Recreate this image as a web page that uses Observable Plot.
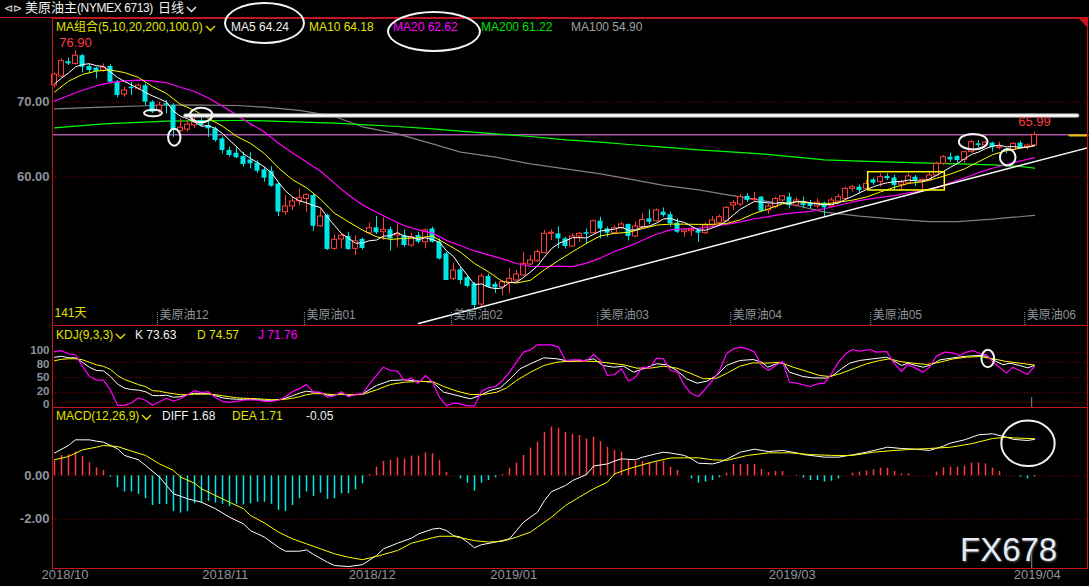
<!DOCTYPE html>
<html><head><meta charset="utf-8">
<script src="https://cdn.jsdelivr.net/npm/d3@7"></script>
<script src="https://cdn.jsdelivr.net/npm/@observablehq/plot@0.6"></script>
<style>
html,body{margin:0;padding:0;background:#000;}
#chart{position:relative;width:1089px;height:586px;background:#000;overflow:hidden;font-family:"Liberation Sans",Arial,"Noto Sans CJK SC",sans-serif;}
#chart .abs{position:absolute;white-space:nowrap;line-height:14px;}
#chart .pane{position:absolute;left:0;}
</style></head><body><div id="chart"></div>
<script>
// ---------------- data ----------------
const openP = [72.23,73.43,75.4,75.1,76.2,74.76,74.54,74.2,74.76,72.67,
71.03,72.0,71.8,72.2,70.0,68.9,69.8,69.56,66.14,66.35,
66.9,67.56,66.9,66.45,65.1,63.56,63.2,62.76,62.3,61.87,
60.98,60.8,59.1,55.34,56.1,56.8,57.1,57.56,53.45,54.9,
50.45,51.7,52.1,50.45,51.7,52.54,53.25,52.67,52.98,52.23,
52.23,50.89,52.23,51.34,53.1,51.34,49.78,46.45,47.65,46.6,
45.78,43.03,46.76,45.7,45.34,45.9,46.23,46.9,48.36,48.8,
49.87,52.45,52.45,51.78,50.76,52.1,52.6,52.54,54.14,53.1,
52.54,53.2,53.7,52.1,53.34,54.45,54.14,55.34,55.0,53.87,
52.67,52.8,52.9,52.54,53.56,53.87,54.14,56.23,56.36,57.45,
56.95,57.34,55.56,56.0,56.9,57.34,56.23,56.54,56.5,56.1,
56.54,56.1,56.76,57.1,58.45,58.67,58.45,59.65,59.34,60.1,
59.9,59.0,59.2,60.0,59.6,59.56,60.23,61.78,62.67,62.76,
62.3,63.34,64.45,64.23,64.54,63.9,63.65,63.65,64.54,64.0,
64.23];
const highP = [73.9,75.78,75.9,76.9,76.36,75.1,74.67,75.1,75.0,72.9,
72.0,72.67,72.45,72.45,70.2,70.0,70.2,69.8,67.78,67.56,
67.98,68.2,67.3,66.67,65.34,64.0,64.1,63.3,63.25,62.2,
61.34,61.4,59.34,57.56,57.34,58.45,57.78,57.78,55.78,55.1,
52.3,52.5,52.67,52.23,51.9,53.87,54.76,54.58,53.34,53.78,
52.98,52.54,52.67,53.1,53.34,51.78,50.0,48.54,48.0,46.9,
46.0,47.1,47.1,46.0,46.23,47.78,47.56,50.0,49.56,50.3,
52.9,52.98,53.4,52.0,52.45,52.67,53.1,54.3,54.67,53.34,
53.56,54.0,53.78,54.0,55.1,55.65,55.78,55.9,55.34,54.45,
53.1,53.3,53.0,53.87,54.76,54.98,56.1,56.9,57.7,57.8,
58.0,57.42,56.45,57.34,57.56,57.87,57.25,57.34,56.9,57.1,
56.67,57.25,57.7,58.67,58.9,59.0,59.56,59.9,60.45,60.45,
60.23,59.56,60.45,60.23,59.65,60.67,62.0,62.9,63.2,62.9,
63.47,64.9,64.9,64.8,64.67,64.67,63.8,64.6,64.8,64.45,
65.99];
const lowP = [71.9,73.25,74.9,74.9,73.9,73.8,73.1,74.0,72.45,70.58,
70.67,70.9,71.56,69.56,68.5,68.45,68.45,65.3,66.0,66.0,
66.45,66.67,65.3,64.67,63.1,62.67,62.45,61.34,61.1,60.54,
59.34,58.67,54.76,54.9,55.56,56.23,55.34,52.8,53.34,50.23,
50.23,50.45,50.23,49.56,50.3,52.36,52.36,51.56,50.14,50.67,
50.67,50.67,51.1,50.45,51.2,48.98,46.23,46.23,45.7,45.25,
42.45,42.67,45.25,44.5,44.23,44.45,46.0,46.76,48.23,48.67,
49.78,51.56,50.45,50.45,50.67,51.34,51.1,52.45,51.78,52.0,
52.36,52.98,51.5,51.9,53.1,53.7,54.0,54.67,53.34,52.5,
52.0,52.1,51.34,52.36,53.25,53.56,54.0,55.56,56.1,56.67,
56.67,55.34,55.03,55.78,56.67,55.78,56.0,55.78,55.78,55.78,
54.67,56.0,56.45,56.9,58.0,57.8,58.23,58.9,58.67,59.56,
58.23,58.23,59.1,58.76,58.23,59.47,60.1,61.56,62.0,61.9,
61.78,63.2,63.92,64.0,63.34,63.65,63.1,63.5,63.78,63.65,
64.1];
const closeP = [73.69,75.47,75.1,76.2,74.67,74.23,74.1,74.6,72.67,70.9,
71.56,71.8,72.2,70.0,68.67,69.56,69.6,66.23,66.6,67.0,
67.3,66.9,66.45,64.9,63.56,62.9,62.6,61.7,61.78,60.8,
59.87,58.8,55.34,56.1,56.76,57.2,57.6,53.45,54.76,50.36,
51.65,52.2,50.36,51.45,50.5,53.2,52.58,52.98,51.78,52.45,
50.89,52.0,51.34,52.9,51.34,49.1,46.23,47.56,46.23,45.43,
42.9,46.76,45.34,45.25,46.0,46.45,47.03,48.45,48.9,50.0,
52.45,52.6,51.78,50.76,52.1,52.45,52.4,54.14,53.1,52.54,
53.2,53.7,52.1,53.43,54.3,54.0,55.56,54.9,53.78,52.67,
52.9,53.0,52.54,53.56,54.23,54.67,55.92,56.54,57.34,56.9,
57.1,55.47,56.1,57.1,57.45,56.23,56.9,56.23,56.1,56.6,
55.92,56.9,57.34,58.45,58.67,58.23,59.1,59.2,60.0,59.8,
58.9,59.3,60.1,59.5,59.65,60.23,61.78,62.67,62.3,62.23,
63.34,64.67,64.23,64.6,63.92,64.0,63.47,64.45,63.92,64.23,
65.65];

const ma5 = [72.45,73.2,73.9,74.7,75.03,75.13,74.86,74.76,74.05,73.3,
72.77,72.31,71.83,71.29,70.85,70.45,70.01,68.81,68.13,67.8,
67.35,66.81,66.85,66.51,65.82,64.94,64.08,63.13,62.51,61.96,
61.35,60.59,59.32,58.18,57.37,56.84,56.6,56.22,55.95,54.67,
53.56,52.48,51.87,51.2,51.23,51.54,51.62,52.14,52.21,52.6,
52.14,52.02,51.69,51.92,51.69,51.34,50.18,49.43,48.09,46.91,
45.67,45.78,45.33,45.14,45.25,45.96,46.01,46.64,47.37,48.17,
49.37,50.48,51.15,51.52,51.94,51.94,51.9,52.37,52.84,52.93,
53.08,53.34,52.93,52.99,53.35,53.51,53.88,54.44,54.51,54.18,
53.96,53.45,52.98,52.93,53.25,53.6,54.18,54.98,55.74,56.27,
56.76,56.67,56.58,56.53,56.64,56.47,56.76,56.78,56.58,56.41,
56.35,56.35,56.57,57.04,57.46,57.92,58.36,58.73,59.04,59.27,
59.4,59.44,59.62,59.52,59.49,59.76,60.25,60.77,61.33,61.84,
62.46,63.04,63.35,63.81,64.15,64.28,64.04,64.09,63.95,64.01,
64.24];
const ma10 = [[0,71.34],[2,72.8],[4,73.7],[6,74.15],[8,74.3],[10,73.95],[12,73.3],[14,72.08],[16,71.16],[18,69.71],[20,68.9],[22,67.83],[24,66.81],[26,65.45],[28,64.51],[30,63.15],[32,61.23],[34,59.67],[36,58.6],[38,57.07],[40,55.2],[42,54.05],[44,52.95],[46,52.05],[48,51.71],[50,51.84],[52,51.92],[54,52.15],[56,51.1],[58,50.0],[60,48.5],[62,47.38],[64,46.08],[66,45.9],[68,46.26],[70,47.67],[72,48.9],[74,50.06],[76,51.19],[78,52.18],[80,52.51],[82,52.65],[84,53.14],[86,53.61],[88,53.75],[90,53.74],[92,53.71],[94,53.72],[96,53.82],[98,54.34],[100,55.18],[102,55.78],[104,56.46],[106,56.72],[108,56.56],[110,56.41],[112,56.68],[114,56.94],[116,57.36],[118,58.04],[120,58.66],[122,59.18],[124,59.38],[126,59.85],[128,60.43],[130,61.11],[132,62.06],[134,63.0],[136,63.54],[138,63.88],[140,64.18]];
const ma20 = [[0,70.14],[2,70.9],[4,71.6],[6,72.2],[8,72.6],[10,72.85],[12,72.95],[14,72.85],[16,72.6],[18,72.0],[20,71.43],[22,70.57],[24,69.45],[26,68.31],[28,67.11],[30,66.03],[32,64.53],[34,63.24],[36,62.03],[38,60.79],[40,59.18],[42,57.64],[44,56.31],[46,55.33],[48,54.39],[50,53.52],[52,52.99],[54,52.55],[56,51.58],[58,50.86],[60,50.17],[62,49.65],[64,49.12],[66,48.5],[68,48.13],[70,48.09],[72,48.14],[74,48.07],[76,48.55],[78,49.22],[80,50.09],[82,50.78],[84,51.6],[86,52.4],[88,52.97],[90,53.13],[92,53.18],[94,53.43],[96,53.72],[98,54.05],[100,54.46],[102,54.75],[104,55.09],[106,55.27],[108,55.45],[110,55.8],[112,56.23],[114,56.7],[116,57.04],[118,57.3],[120,57.54],[122,57.93],[124,58.16],[126,58.61],[128,59.24],[130,59.89],[132,60.62],[134,61.19],[136,61.7],[138,62.16],[140,62.62]];
const ma100 = [[0,69.12],[7,69.34],[14,69.56],[19,69.65],[26,69.56],[30,69.34],[35,68.9],[40,68.1],[44,66.72],[49,65.78],[54,64.45],[58,63.34],[63,62.67],[68,61.78],[73,61.1],[78,60.45],[82,59.78],[87,58.9],[92,58.3],[96,57.69],[101,56.9],[106,56.23],[110,55.34],[115,54.8],[120,54.4],[125,54.09],[129,54.09],[134,54.4],[137,54.67],[140,54.9]];
const ma200 = [[0,66.58],[7,67.12],[16,67.47],[26,67.56],[30,67.52],[40,67.2],[44,67.0],[49,66.76],[54,66.45],[58,66.14],[63,65.78],[68,65.43],[73,64.98],[78,64.67],[82,64.36],[87,64.0],[92,63.65],[96,63.4],[101,63.12],[106,62.67],[110,62.32],[115,62.14],[120,62.0],[125,61.87],[129,61.78],[134,61.65],[138,61.43],[140,61.22]];

const kLine = [[0,90],[1,92],[2,89],[3,89],[4,80],[5,70],[6,64],[7,63],[8,52],[9,37],[10,29],[11,26],[12,25],[13,22],[14,14.5],[15,14],[16,15],[17,11],[18,12],[19,16],[20,19],[21,18],[22,18],[23,14],[24,10],[25,8],[26,7],[27,7],[28,7],[29,6],[30,5],[31,5],[32,6],[33,9],[34,14],[35,19],[36,23],[37,21],[38,20],[39,15],[40,15],[41,18],[42,14],[43,16],[44,17.5],[46,34.2],[48,44.1],[50,45.4],[52,42.8],[54,40.8],[55.6,21],[57.5,14.5],[59.4,7.9],[60.8,14.5],[62.2,24.3],[63.7,29.6],[65.1,47.4],[66.5,67.2],[68,77.1],[69.9,88.9],[71.8,86.9],[73.7,81.6],[75.6,83.6],[77,86.9],[78.4,73.7],[79.9,70.4],[81.3,72.4],[82.7,60.6],[84.1,67.2],[86,77.1],[87.5,75.1],[88.9,63.9],[90.3,47.4],[91.8,38.8],[93.2,42.8],[94.6,54],[96,74],[97.9,83.6],[99.8,85.6],[101,80.3],[101.9,70.4],[103.1,77.1],[104.1,79],[105,60.6],[106.9,52],[108.3,49.4],[110.3,48.7],[111.2,54],[112.4,67.2],[113.6,78.3],[115,83.6],[116.9,86.9],[118.9,90.2],[119.8,83.6],[121,73.7],[121.9,78.3],[123.1,73.7],[124.1,70.4],[125.3,75.1],[126.5,84.9],[128.4,88.9],[130.3,92.2],[132.2,93.5],[133.1,92.2],[134.1,84.9],[135.5,75.1],[136.5,78.3],[137.9,73.7],[139,69.1],[140,73.63]];
const dLine = [[0,83],[1,86],[2,87],[3,87],[4,85],[5,80],[6,75],[7,72],[8,66],[9,54],[10,46],[11,41],[12,36],[13,32],[14,24],[15,23],[16,20],[17,18],[18,16],[19,16],[20,17],[21,17],[22,17.5],[23,16],[24,14],[25,12],[26,10],[27,9],[28,8.5],[29,8],[30,7],[31,6],[32,6],[33,7],[34,9],[35,12],[36,16],[37,18],[38,18],[39,17],[40,16],[41,17],[42,16],[43,16],[44,16.5],[46,25.6],[48,36.2],[50,40.8],[52,42.1],[54,42.1],[55.6,32.2],[57.5,23],[59.4,16.4],[61.3,16.4],[63.2,21],[64.6,29.6],[66,44.1],[68,60.6],[69.9,73.7],[71.8,80.3],[73.7,82.3],[75.6,82.3],[77.5,81.6],[79.4,78.3],[81.3,75.1],[83.2,68.5],[85.1,68.5],[87,72.4],[88.9,68.5],[90.8,58.6],[92.7,47.4],[94.6,48.7],[96,58],[97.9,72.4],[99.8,79],[101.7,78.3],[103.6,80.3],[105.5,70.4],[107.4,62.5],[109.3,54],[110.7,52],[112.2,57.3],[114.1,67.2],[116,77.1],[117.9,83.6],[119.3,86.9],[120.8,81.6],[122.7,78.3],[124.6,75.7],[126.5,80.3],[128.4,86.9],[130.3,90.2],[132.2,91.5],[134.1,86.9],[136,81.6],[137.9,78.3],[140,74.57]];
const jLine = [[0,101],[1,103],[2,97],[3,95],[4,72],[5,52],[6,45],[7,45],[8,25],[9,-5],[10,-5],[11,0],[12,10],[13,5],[14,-5],[15,2],[16,9],[17,3],[18,8],[19,16],[20,24],[21,20],[22,22],[23,10],[24,3],[25,1],[26,3],[27,5],[28,6],[29,5],[30,3],[31,3],[32,5],[33,12],[34,22],[35,28],[36,36],[37,21],[38,21],[39,11],[40,14],[41,22],[42,12],[43,17],[44,17.8],[45,37.5],[46,54],[47,70.4],[48,63.9],[49,62.5],[50,44.1],[51,48.7],[52,38.8],[53,54],[54,40.8],[55,11.2],[56,-6],[57,-0.7],[58,-2],[59,-6],[60,-6],[61,23],[62,29.6],[63,32.2],[64,44.1],[65,60.6],[66,80.3],[67,100.1],[68,104.7],[69,114.6],[71,114.6],[72,110],[73,83.6],[74,84.9],[75,84.9],[76,82.3],[77,95.5],[78,83.6],[79,54],[80,56],[81,67.2],[82,42.8],[83,50.7],[84,70.4],[85,68.5],[86,88.2],[87,86.9],[88,63.9],[89,60.6],[90,34.2],[91,17.8],[92,12.5],[93,27.6],[94,44.1],[95,63.9],[96,96.8],[97,106.7],[98,110],[99,106.7],[100,100.1],[101,73.7],[102,63.9],[103,73.7],[104,81.6],[105,40.8],[106,38.8],[108,32.2],[109,37.5],[110,38.8],[111,57.3],[112,80.3],[113,96.8],[114,105.4],[115,102.1],[116.5,105.4],[117.4,100.1],[118.9,101.4],[119.8,80.3],[121,61.9],[121.9,75.7],[122.9,69.1],[124.1,60.6],[125,70.4],[126,92.2],[127.2,100.1],[128.4,98.1],[129.3,93.5],[130.3,100.1],[131.2,103.4],[132.2,96.8],[133.1,95.5],[134.1,80.3],[135,70.4],[136,58.6],[136.9,70.4],[137.9,63.9],[139,56],[140,71.76]];

const diffLine = [[0,1.05],[2,1.4],[3,1.66],[5,1.66],[6,1.6],[7,1.55],[9,1.25],[10,0.94],[12,0.74],[13,0.48],[15,-0.06],[16,-0.45],[17,-0.83],[19,-1.06],[21,-1.22],[23,-1.52],[25,-1.91],[27,-2.22],[28,-2.53],[30,-2.83],[32,-3.3],[33,-3.48],[35,-3.48],[36,-3.42],[37,-3.63],[39,-3.99],[40,-4.14],[42,-4.19],[44,-4.1],[46,-3.68],[47,-3.37],[49,-3.11],[51,-2.88],[52,-2.68],[54,-2.46],[55,-2.42],[56,-2.53],[57,-2.76],[58,-2.83],[59,-3.06],[60,-3.32],[61,-3.18],[63,-3.06],[65,-2.91],[66,-2.53],[67,-2.14],[69,-1.68],[70,-1.14],[71,-0.73],[73,-0.45],[74,-0.22],[76,0.06],[77,0.45],[79,0.55],[80,0.68],[81,0.78],[83,0.74],[84,0.86],[86,1.02],[87,1.09],[88,1.05],[90,0.94],[91,0.78],[92,0.58],[94,0.55],[95,0.63],[96,0.76],[98,1.09],[100,1.23],[102,1.12],[104,1.17],[106,1.06],[107,0.98],[110,0.86],[112,0.86],[114,0.97],[116,1.09],[119,1.32],[121,1.26],[123,1.23],[125,1.17],[127,1.37],[128,1.51],[130,1.66],[132,1.89],[134,1.94],[136,1.78],[137,1.68],[139,1.63],[140,1.68]];
const deaLine = [[0,0.74],[2,0.89],[4,1.2],[6,1.32],[7,1.4],[9,1.35],[11,1.14],[13,0.94],[15,0.55],[17,0.25],[18,-0.06],[20,-0.34],[21,-0.6],[23,-0.91],[25,-1.22],[27,-1.52],[28,-1.83],[30,-2.18],[32,-2.6],[34,-2.91],[36,-3.14],[38,-3.37],[40,-3.6],[42,-3.76],[44,-3.87],[46,-3.72],[49,-3.45],[51,-3.11],[54,-2.86],[55,-2.79],[57,-2.79],[58,-2.86],[60,-2.99],[62,-3.06],[64,-3.02],[66,-2.83],[68,-2.6],[69,-2.37],[71,-1.91],[73,-1.37],[75,-0.98],[77,-0.6],[79,-0.29],[80,0.09],[82,0.32],[84,0.51],[86,0.68],[88,0.82],[90,0.83],[92,0.83],[94,0.74],[96,0.71],[99,0.94],[102,1.06],[105,1.06],[108,0.98],[111,0.94],[114,0.94],[117,1.09],[120,1.17],[123,1.23],[125,1.26],[128,1.32],[131,1.48],[134,1.72],[136,1.78],[137,1.75],[140,1.71]];
const macdHist = [0.68,0.94,0.98,1.09,0.89,0.6,0.37,0.25,-0.06,-0.55,
-0.75,-0.75,-0.86,-1.06,-1.37,-1.32,-1.32,-1.65,-1.72,-1.65,
-1.29,-1.26,-1.18,-1.26,-1.32,-1.42,-1.32,-1.34,-1.29,-1.22,
-1.22,-1.32,-1.6,-1.65,-1.37,-1.06,-0.75,-0.95,-0.8,-1.09,
-1.06,-0.83,-0.83,-0.65,-0.37,0.06,0.4,0.66,0.71,0.83,
0.78,0.91,0.91,1.06,1.02,0.71,0.15,0,-0.15,-0.34,
-0.71,-0.34,-0.22,-0.09,0.06,0.35,0.58,0.94,1.28,1.55,
2.0,2.25,2.19,2.0,1.91,1.86,1.69,1.78,1.58,1.32,
1.17,1.09,0.71,0.66,0.66,0.6,0.66,0.68,0.4,0.25,
0,-0.15,-0.34,-0.29,-0.22,-0.09,0.12,0.52,0.52,0.52,
0.52,0.29,0.14,0.2,0.2,0,-0.03,-0.11,-0.22,-0.22,
-0.29,-0.25,-0.15,0,0.12,0.17,0.22,0.28,0.35,0.35,
0.2,0.09,0.09,0.01,0.01,0,0.17,0.37,0.4,0.4,
0.45,0.58,0.58,0.55,0.35,0.2,0.01,0.01,-0.06,-0.15,
-0.05];

const dateTicks = [1.5, 24.4, 45.4, 65.6, 105.4, 140.4];
const dateLabels = ["2018/10","2018/11","2018/12","2019/01","2019/03","2019/04"];
const contractTicks = [14.7, 35.7, 56.7, 77.6, 96.6, 116.6, 138.6];
const contractLabels = ["美原油12","美原油01","美原油02","美原油03","美原油04","美原油05","美原油06"];
const priceGrid = [60, 70];
const kdjGrid = [0, 20, 50, 80, 100];
const kdjLabelShift = [1.5, -1.5, 0, 1.5, -2];   // keeps the tightly packed labels apart
const macdGrid = [-2, 0];
const priceLine = 65.65;           // pink horizontal price line
const priceMarker = [[145, 65.56], [147.57, 65.56]];
const resistance = [[18.7, 68.23], [146.1, 68.23]];
const trendLine = [[52, 40.49], [147.57, 63.92]];
const boxAnno = [{x1: 116.24, x2: 127.19, y1: 58.23, y2: 60.67}];
const candleEllipses = [
  {i: 14.07, v: 68.56, rx: 9, ry: 3.3},
  {i: 17.11, v: 65.33, rx: 6.2, ry: 8.4},
  {i: 20.96, v: 68.29, rx: 11.3, ry: 7.2},
  {i: 131.24, v: 64.73, rx: 14.3, ry: 7.8},
  {i: 136.17, v: 62.67, rx: 7.8, ry: 8.3}
];
const kdjEllipse = {i: 133.33, v: 87.5, rx: 6.3, ry: 8.8};
const macdEllipse = {i: 139.07, v: 1.5, rx: 26.7, ry: 22.8};
const cursorAt = 139.6;

// ---------------- style ----------------
const W = 1089, LEFT = 52, RIGHT = 2;
const xDomain = [-2/7, 1033/7];
const RED = "#ff3c3c", CYAN = "#00e5e5", FRAME = "#c4161c", GRID = "#8b0000", AXIS = "#8d939b";
const YEL = "#ffff00", MAG = "#ff00ff", TXTYEL = "#e2e200";
const baseStyle = {background: "transparent", overflow: "visible", color: "#fff",
  fontFamily: "'Liberation Sans', Arial, 'Noto Sans CJK SC', sans-serif"};
const pts = a => a.map(([i, v]) => ({i, v}));

function ellipseSymbol(rx, ry) {
  const k = 0.5523;
  return {draw(ctx) {
    ctx.moveTo(rx, 0);
    ctx.bezierCurveTo(rx, ry * k, rx * k, ry, 0, ry);
    ctx.bezierCurveTo(-rx * k, ry, -rx, ry * k, -rx, 0);
    ctx.bezierCurveTo(-rx, -ry * k, -rx * k, -ry, 0, -ry);
    ctx.bezierCurveTo(rx * k, -ry, rx, -ry * k, rx, 0);
    ctx.closePath();
  }};
}
const ellipseMark = e => Plot.dot([e], {x: "i", y: "v", symbol: ellipseSymbol(e.rx, e.ry), fill: "none", stroke: "#f4f4f4", strokeWidth: 2});

const bars = closeP.map((c, i) => ({i, o: openP[i], h: highP[i], l: lowP[i], c, up: c >= openP[i]}));
const half = 2.5 / 7;
const hiIdx = d3.maxIndex(highP);
const lastIdx = closeP.length - 1;

// ---------------- candle pane ----------------
const candle = Plot.plot({
  width: W, height: 325, marginTop: 18, marginBottom: 0, marginLeft: LEFT, marginRight: RIGHT,
  x: {domain: xDomain, axis: null},
  y: {domain: [40.23, 81.16], axis: null},
  style: baseStyle,
  marks: [
    Plot.ruleY(priceGrid, {stroke: GRID, strokeDasharray: "1,2"}),
    Plot.text(priceGrid, {y: d => d, text: d => d.toFixed(2), frameAnchor: "left", textAnchor: "end", dx: -3, fill: AXIS, fontSize: 13, fontWeight: "bold"}),
    Plot.ruleY([priceLine], {stroke: "#ff80ff"}),
    Plot.line(pts(ma100), {x: "i", y: "v", stroke: "#808080", strokeWidth: 1.2}),
    Plot.line(pts(ma200), {x: "i", y: "v", stroke: "#00ff00", strokeWidth: 1.2}),
    Plot.ruleX(bars, {filter: d => d.up, x: "i", y1: "l", y2: "h", stroke: RED}),
    Plot.ruleX(bars, {filter: d => !d.up, x: "i", y1: "l", y2: "h", stroke: CYAN}),
    Plot.rect(bars, {filter: d => d.up, x1: d => d.i - half, x2: d => d.i + half, y1: "o", y2: "c", fill: "#000", stroke: RED}),
    Plot.rect(bars, {filter: d => !d.up, x1: d => d.i - half, x2: d => d.i + half, y1: "o", y2: "c", fill: CYAN}),
    Plot.line(pts(ma20), {x: "i", y: "v", stroke: MAG, strokeWidth: 1.2}),
    Plot.line(pts(ma10), {x: "i", y: "v", stroke: YEL, strokeWidth: 1}),
    Plot.line(ma5.map((v, i) => ({i, v})), {x: "i", y: "v", stroke: "#ffffff", strokeWidth: 1}),
    Plot.line(pts(trendLine), {x: "i", y: "v", stroke: "#ffffff", strokeWidth: 1.4}),
    Plot.line(pts(resistance), {x: "i", y: "v", stroke: "#9a9a9a", strokeWidth: 4.5}),
    Plot.line(pts(resistance), {x: "i", y: "v", stroke: "#ffffff", strokeWidth: 2.5}),
    Plot.line(pts(priceMarker), {x: "i", y: "v", stroke: "#e8c400", strokeWidth: 2}),
    Plot.rect(boxAnno, {x1: "x1", x2: "x2", y1: "y1", y2: "y2", fill: "none", stroke: YEL, strokeWidth: 1.5}),
    ...candleEllipses.map(ellipseMark),
    Plot.text([hiIdx], {x: d => d, y: d => highP[d], text: d => highP[d].toFixed(2), dy: -8, fill: RED, fontSize: 13}),
    Plot.text([lastIdx], {x: d => d, y: d => highP[d], text: d => highP[d].toFixed(2), dy: -10, fill: RED, fontSize: 13}),
    Plot.ruleX(contractTicks, {x: d => d, stroke: AXIS, strokeDasharray: "1,1", insetTop: 294}),
    Plot.text(contractTicks, {x: d => d, text: (d, i) => contractLabels[i], frameAnchor: "bottom", textAnchor: "start", dx: 2, dy: -7, fill: AXIS, fontSize: 12}),
    Plot.text([closeP.length], {frameAnchor: "bottom-left", text: d => d + "天", textAnchor: "start", dx: 2, dy: -9, fill: TXTYEL, fontSize: 12}),
    Plot.frame({stroke: FRAME})
  ]
});

// ---------------- KDJ pane ----------------
const kdj = Plot.plot({
  width: W, height: 82, marginTop: 0, marginBottom: 0, marginLeft: LEFT, marginRight: RIGHT,
  x: {domain: xDomain, axis: null},
  y: {domain: [-9.29, 152.8], axis: null},
  style: baseStyle,
  marks: [
    Plot.ruleY(kdjGrid, {stroke: GRID, strokeDasharray: "1,2"}),
    ...kdjGrid.map((g, k) => Plot.text([g], {y: d => d, text: d => String(d), frameAnchor: "left", textAnchor: "end", dx: -3, dy: kdjLabelShift[k], fill: AXIS, fontSize: 11.5, fontWeight: "bold"})),
    Plot.line(pts(kLine), {x: "i", y: "v", stroke: "#ffffff", strokeWidth: 1}),
    Plot.line(pts(dLine), {x: "i", y: "v", stroke: YEL, strokeWidth: 1}),
    Plot.line(pts(jLine), {x: "i", y: "v", stroke: MAG, strokeWidth: 1.2}),
    ellipseMark(kdjEllipse),
    Plot.ruleX([cursorAt], {x: d => d, stroke: "#8a8a8a", insetTop: 72}),
    Plot.frame({stroke: FRAME})
  ]
});

// ---------------- MACD pane ----------------
const hist = macdHist.map((v, i) => ({i, v})).filter(d => d.v !== 0);
const macd = Plot.plot({
  width: W, height: 179, marginTop: 0, marginBottom: 18, marginLeft: LEFT, marginRight: RIGHT,
  x: {domain: xDomain, axis: null},
  y: {domain: [-4.278, 3.152], axis: null},
  style: baseStyle,
  marks: [
    Plot.ruleY(macdGrid, {stroke: GRID, strokeDasharray: "1,2"}),
    Plot.text(macdGrid, {y: d => d, text: d => d.toFixed(2), frameAnchor: "left", textAnchor: "end", dx: -3, fill: AXIS, fontSize: 13, fontWeight: "bold"}),
    Plot.ruleX(hist, {filter: d => d.v > 0, x: "i", y1: 0, y2: "v", stroke: RED, strokeWidth: 1.5}),
    Plot.ruleX(hist, {filter: d => d.v < 0, x: "i", y1: 0, y2: "v", stroke: CYAN, strokeWidth: 1.5}),
    Plot.line(pts(diffLine), {x: "i", y: "v", stroke: "#ffffff", strokeWidth: 1}),
    Plot.line(pts(deaLine), {x: "i", y: "v", stroke: YEL, strokeWidth: 1}),
    ellipseMark(macdEllipse),
    Plot.ruleX([cursorAt], {x: d => d, stroke: "#8a8a8a", insetTop: 141}),
    Plot.text(dateTicks, {x: d => d, text: (d, i) => dateLabels[i], frameAnchor: "bottom", dy: 10, fill: AXIS, fontSize: 13}),
    Plot.frame({stroke: FRAME})
  ]
});

// ---------------- assemble ----------------
const root = document.getElementById("chart");
function pane(el, top) { const d = document.createElement("div"); d.className = "pane"; d.style.top = top + "px"; d.appendChild(el); root.appendChild(d); }
pane(candle, 0); pane(kdj, 325); pane(macd, 407);

function txt(left, top, html, color, size) {
  const s = document.createElement("div"); s.className = "abs";
  s.style.left = left + "px"; s.style.top = top + "px"; s.style.color = color;
  s.style.fontSize = (size || 12) + "px"; s.innerHTML = html; root.appendChild(s); return s;
}
const chev = c => `<svg width="11" height="7" style="margin-left:2px;vertical-align:-1px"><path d="M1 1 L5.5 5.5 L10 1" stroke="${c}" stroke-width="1.4" fill="none"/></svg>`;
const last = a => (Array.isArray(a[a.length - 1]) ? a[a.length - 1][1] : a[a.length - 1]);

// header line + corner mark
const hl = document.createElement("div"); hl.style.cssText = `position:absolute;left:0;top:17px;width:${W}px;height:1px;background:${FRAME}`; root.appendChild(hl);
const tri = document.createElement("div"); tri.style.cssText = `position:absolute;left:1078px;top:18px;width:0;height:0;border-top:10px solid ${FRAME};border-left:10px solid transparent`; root.appendChild(tri);

txt(4, 1, "⊲⊳", "#e0e0e0", 11);
txt(25, 1, "美原油主<span style='font-size:12px;letter-spacing:-0.4px'>(NYMEX 6713)</span>", "#f0f0f0", 13);
txt(158, 1, "日线" + chev("#f0f0f0"), "#f0f0f0", 13);

txt(56, 20, "MA组合(5,10,20,200,100,0)" + chev(TXTYEL), TXTYEL, 12);
txt(231, 20, "MA5 " + last(ma5).toFixed(2), "#f0f0f0", 12);
txt(309, 20, "MA10 " + last(ma10).toFixed(2), TXTYEL, 12);
txt(393, 20, "MA20 " + last(ma20).toFixed(2), MAG, 12);
txt(481, 20, "MA200 " + last(ma200).toFixed(2), "#00e000", 12);
txt(571, 20, "MA100 " + last(ma100).toFixed(2), "#a0a0a0", 12);

txt(56, 328, "KDJ(9,3,3)" + chev(TXTYEL), TXTYEL, 12);
txt(135, 328, "K " + last(kLine).toFixed(2), "#f0f0f0", 12);
txt(197, 328, "D " + last(dLine).toFixed(2), TXTYEL, 12);
txt(258, 328, "J " + last(jLine).toFixed(2), MAG, 12);

txt(56, 409, "MACD(12,26,9)" + chev(TXTYEL), TXTYEL, 12);
txt(162, 409, "DIFF " + last(diffLine).toFixed(2), "#f0f0f0", 12);
txt(232, 409, "DEA " + last(deaLine).toFixed(2), TXTYEL, 12);
txt(306, 409, last(macdHist).toFixed(2), "#f0f0f0", 12);

// legend highlight ellipses
function ring(left, top, w, h) { const d = document.createElement("div"); d.style.cssText = `position:absolute;left:${left}px;top:${top}px;width:${w}px;height:${h}px;border:2px solid #f4f4f4;border-radius:50%;box-sizing:border-box`; root.appendChild(d); }
ring(224, 2, 81, 42);
ring(387, 11, 94, 41);

// watermark
const wm = txt(960, 533, "FX678", "#e4eaf0", 33);
wm.style.lineHeight = "33px"; wm.style.textShadow = "1px 1px 2px #505860";
</script></body></html>
